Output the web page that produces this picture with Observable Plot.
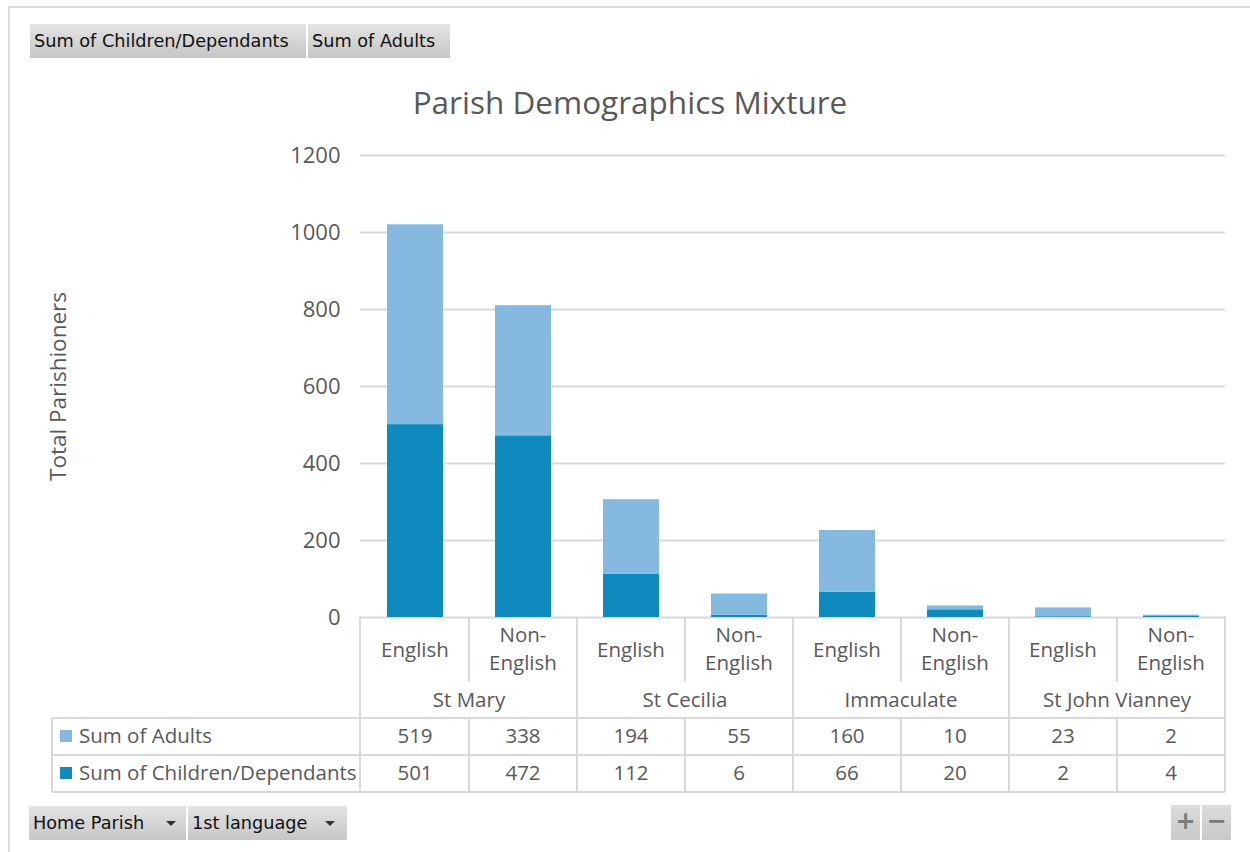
<!DOCTYPE html>
<html>
<head>
<meta charset="utf-8">
<script src="https://cdn.jsdelivr.net/npm/d3@7"></script>
<script src="https://cdn.jsdelivr.net/npm/@observablehq/plot@0.6"></script>
<style>
  html, body { margin: 0; padding: 0; background: #ffffff; }
  #root { position: relative; width: 1250px; height: 852px; overflow: hidden; background: #fff; font-family: "Open Sans", sans-serif; }
  #frame { position: absolute; left: 8px; top: 6px; width: 1260px; height: 860px; border-top: 2px solid #dcdcdc; border-left: 2px solid #dcdcdc; }
  #chart { position: absolute; left: 0; top: 0; }
  #title { position: absolute; left: 0; top: 81px; width: 1260px; text-align: center; font-size: 31.5px; line-height: 42px; color: #595959; }
  .btn { position: absolute; box-sizing: border-box; background: linear-gradient(#e4e4e4, #c6c6c6); color: #111; font-family: "DejaVu Sans", sans-serif; font-size: 17.7px; line-height: 34px; padding-left: 4px; white-space: nowrap; }
  .arrow { position: absolute; width: 0; height: 0; border-left: 5px solid transparent; border-right: 5px solid transparent; border-top: 5px solid #333; }
  .pm { position: absolute; box-sizing: border-box; background: linear-gradient(#dcdcdc, #c8c8c8); color: #7a7a7a; font-family: "DejaVu Sans", sans-serif; font-weight: bold; font-size: 24px; line-height: 33px; text-align: center; }
</style>
</head>
<body>
<div id="root">
  <div id="frame"></div>
  <div id="chart"></div>
  <div id="title">Parish Demographics Mixture</div>
  <div class="btn" style="left:30px;top:24px;width:276px;height:34px;">Sum of Children/Dependants</div>
  <div class="btn" style="left:308px;top:24px;width:142px;height:34px;">Sum of Adults</div>
  <div class="btn" style="left:29px;top:806px;width:157px;height:34px;">Home Parish</div>
  <div class="arrow" style="left:166px;top:821px;"></div>
  <div class="btn" style="left:188px;top:806px;width:159px;height:34px;">1st language</div>
  <div class="arrow" style="left:325px;top:821px;"></div>
  <div class="pm" style="left:1171px;top:805px;width:29px;height:35px;">+</div>
  <div class="pm" style="left:1202px;top:805px;width:29px;height:35px;">−</div>
</div>
<script>
// ---- data ----
const parishes = ["St Mary", "St Cecilia", "Immaculate", "St John Vianney"];
const languages = ["English", "Non-English"];
const adults = [519, 338, 194, 55, 160, 10, 23, 2];
const children = [501, 472, 112, 6, 66, 20, 2, 4];
const seriesNames = ["Sum of Children/Dependants", "Sum of Adults"];
const seriesColors = ["#0e8abe", "#85b9e0"];
const yTicks = [0, 200, 400, 600, 800, 1000, 1200];
const yLabel = "Total Parishioners";

// ---- derived tables ----
const cats = parishes.flatMap(p => languages.map(l => ({parish: p, language: l, key: p + "|" + l})));
const keys = cats.map(c => c.key);
const rows = [
  ...cats.map((c, i) => ({...c, series: seriesNames[0], value: children[i]})),
  ...cats.map((c, i) => ({...c, series: seriesNames[1], value: adults[i]}))
];
const tableRows = [
  {name: seriesNames[1], color: seriesColors[1], values: adults},
  {name: seriesNames[0], color: seriesColors[0], values: children}
];

const lineColor = "#d9d9d9";
const textColor = "#595959";

// data-table mark drawn from the x band scale
function tableMark(index, scales, values, dims) {
  const x = scales.x;
  const bw = x.bandwidth(), step = x.step();
  const gap = (step - bw) / 2;
  const left = dims.marginLeft, right = dims.width - dims.marginRight;
  const y0 = dims.height - dims.marginBottom;
  const langBottom = y0 + 65, parishBottom = y0 + 101, row1 = y0 + 138, row2 = y0 + 175;
  const tableLeft = 52;
  const g = d3.create("svg:g").attr("fill", textColor).attr("font-size", 20.5).attr("text-anchor", "middle");
  const line = (x1, y1, x2, y2) => g.append("line").attr("x1", x1).attr("y1", y1).attr("x2", x2).attr("y2", y2)
    .attr("stroke", lineColor).attr("stroke-width", 2);
  // horizontal lines
  line(tableLeft, parishBottom, right, parishBottom);
  line(tableLeft, row1, right, row1);
  line(tableLeft, row2, right, row2);
  line(tableLeft, parishBottom, tableLeft, row2);
  line(left, y0, left, row2);
  // vertical lines per category
  cats.forEach((c, i) => {
    const xl = x(c.key) - gap;
    if (c.language === languages[0]) {
      if (i > 0) line(xl, y0, xl, row2);
    } else {
      line(xl, y0, xl, langBottom);
      line(xl, parishBottom, xl, row2);
    }
    const cx = x(c.key) + bw / 2;
    // language label
    if (c.language.includes("-")) {
      const parts = c.language.split("-");
      g.append("text").attr("x", cx).attr("y", y0 + 18).attr("dy", "0.35em").text(parts[0] + "-");
      g.append("text").attr("x", cx).attr("y", y0 + 46).attr("dy", "0.35em").text(parts[1]);
    } else {
      g.append("text").attr("x", cx).attr("y", y0 + 33).attr("dy", "0.35em").text(c.language);
    }
    // values
    tableRows.forEach((r, j) => {
      g.append("text").attr("x", cx).attr("y", (j === 0 ? y0 + 119 : y0 + 156)).attr("dy", "0.35em").text(r.values[i]);
    });
  });
  // right border
  line(right, y0, right, row2);
  // parish labels
  parishes.forEach(p => {
    const k0 = p + "|" + languages[0];
    const cx = x(k0) + bw / 2 + step / 2;
    g.append("text").attr("x", cx).attr("y", y0 + 83).attr("dy", "0.35em").text(p);
  });
  // legend column
  tableRows.forEach((r, j) => {
    const cy = j === 0 ? y0 + 119 : y0 + 156;
    g.append("rect").attr("x", 60).attr("y", cy - 6).attr("width", 12).attr("height", 12).attr("fill", r.color);
    g.append("text").attr("x", 79).attr("y", cy).attr("dy", "0.35em").attr("text-anchor", "start").text(r.name);
  });
  return g.node();
}

const chart = Plot.plot({
  width: 1250,
  height: 800,
  marginTop: 155,
  marginBottom: 183,
  marginLeft: 360,
  marginRight: 25,
  style: {fontFamily: "Open Sans", fontSize: "22px", color: textColor, background: "transparent", overflow: "visible"},
  x: {domain: keys, paddingInner: 0.486, paddingOuter: 0.243, axis: null},
  y: {domain: [0, 1200], ticks: yTicks, tickSize: 0, tickPadding: 20, tickFormat: d => String(d), label: null, line: false},
  color: {domain: seriesNames, range: seriesColors},
  marks: [
    Plot.ruleY(yTicks, {stroke: lineColor, strokeWidth: 2}),
    Plot.barY(rows, {x: "key", y: "value", fill: "series"}),
    Plot.text([yLabel], {text: d => d, frameAnchor: "left", textAnchor: "middle", dx: -302, rotate: -90, fill: textColor, fontSize: 22.5}),
    tableMark
  ]
});
document.getElementById("chart").appendChild(chart);
</script>
</body>
</html>
